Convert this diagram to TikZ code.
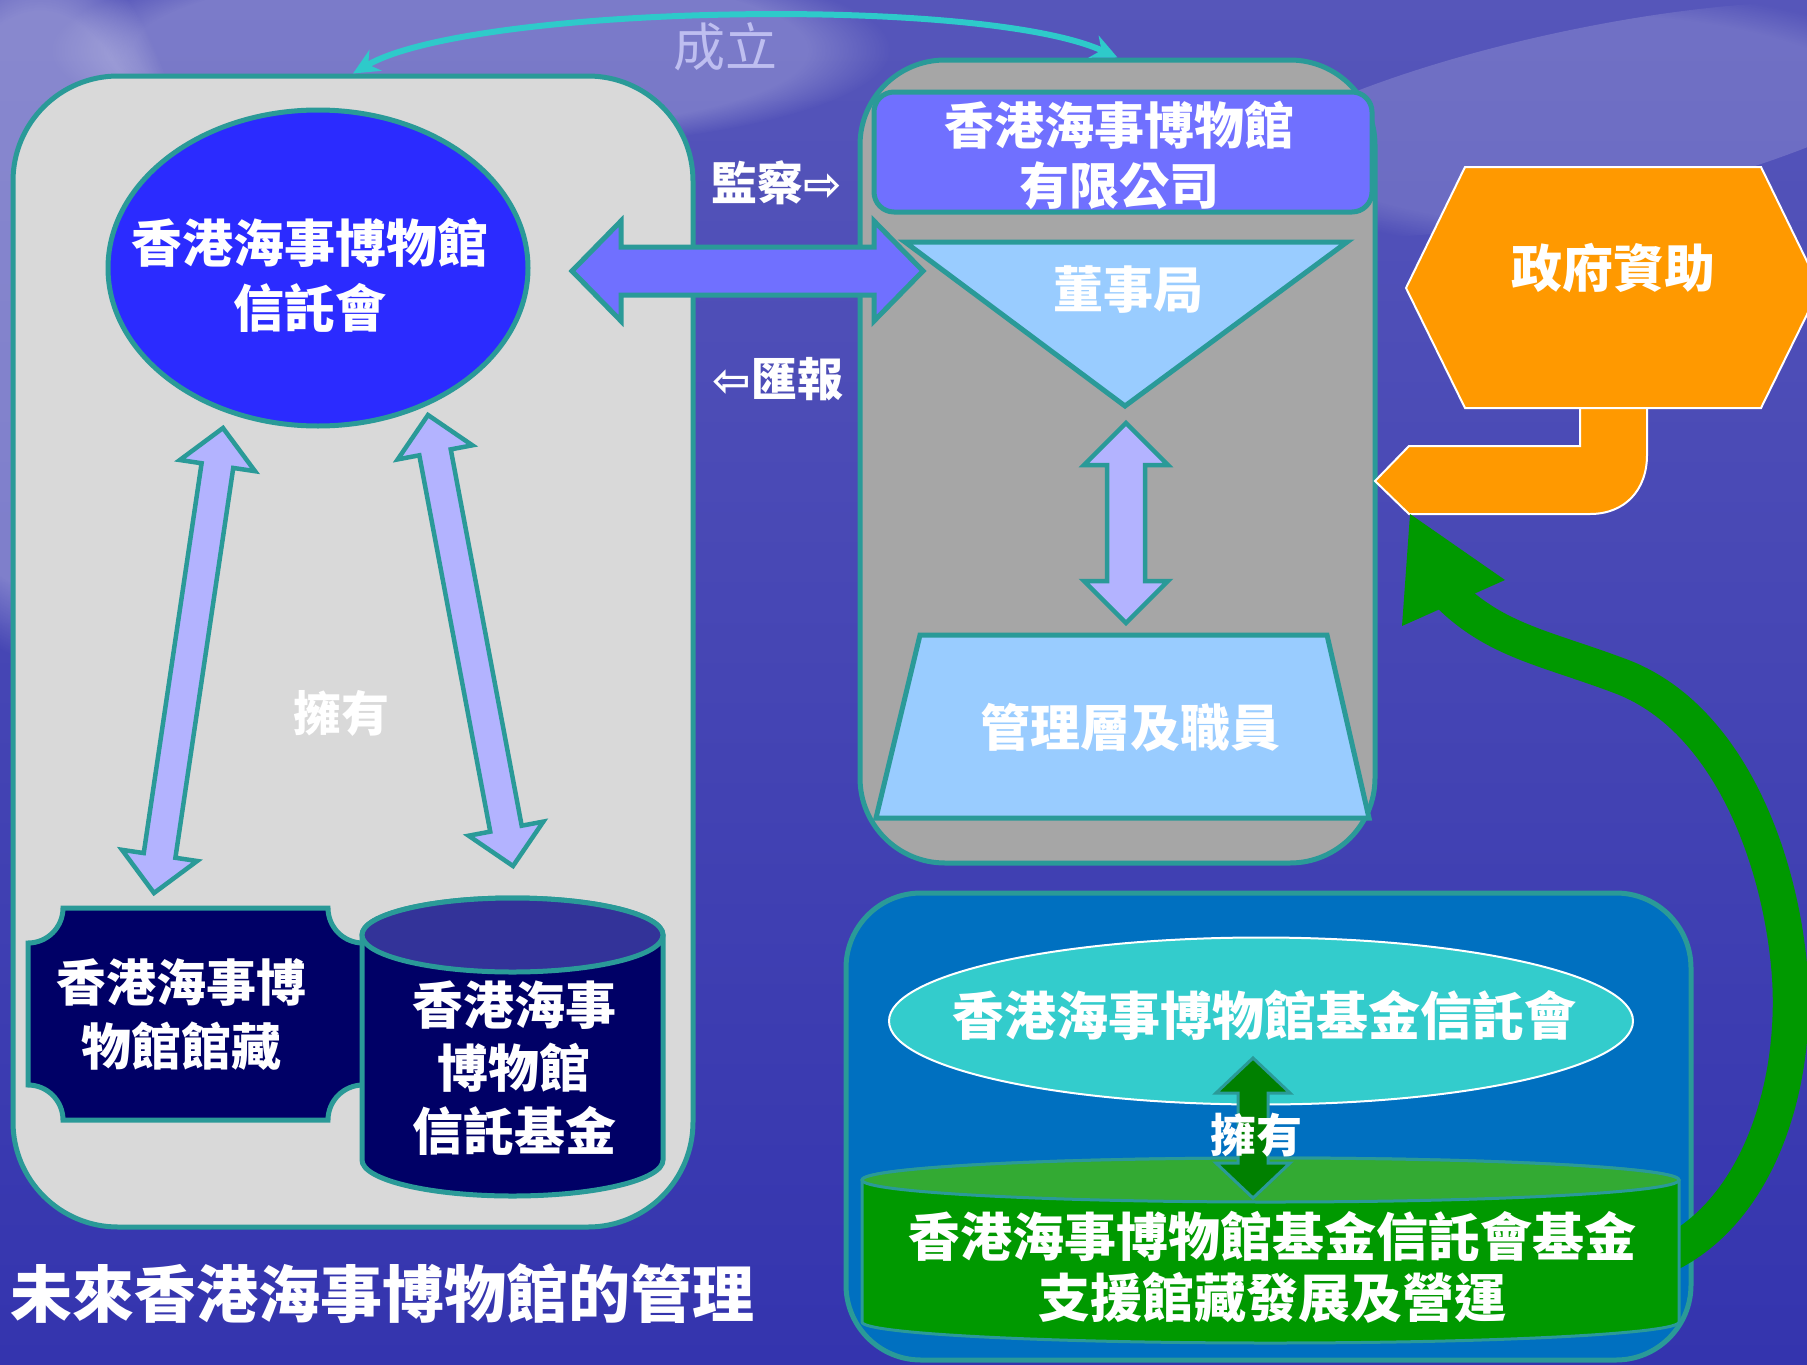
\documentclass[tikz,border=0pt]{standalone}
\usepackage{fontspec}
\setmainfont{Noto Sans CJK TC}
\newfontfamily\arrowfont{DejaVu Sans}
\usetikzlibrary{shapes.geometric, arrows.meta, calc, positioning, fadings}

\definecolor{edgeteal}{HTML}{2A9A98}
\definecolor{panelgray}{HTML}{D9D9D9}
\definecolor{companygray}{HTML}{A6A6A6}
\definecolor{trustblue}{HTML}{2B2BFF}
\definecolor{boldviolet}{HTML}{7070FF}
\definecolor{paleviolet}{HTML}{B3B3FF}
\definecolor{paleblue}{HTML}{99CCFF}
\definecolor{grantorange}{HTML}{FF9900}
\definecolor{navy}{HTML}{000066}
\definecolor{navytop}{HTML}{333399}
\definecolor{fundblue}{HTML}{0070C0}
\definecolor{fundcyan}{HTML}{33CCCC}
\definecolor{fundgreen}{HTML}{009900}
\definecolor{fundtop}{HTML}{33AA33}
\definecolor{darkgreen}{HTML}{008000}
\definecolor{foundcyan}{HTML}{2ECACA}
\definecolor{foundlav}{HTML}{BEBEF0}
\definecolor{skytop}{HTML}{5656BA}
\definecolor{skymid}{HTML}{3E3EB4}
\definecolor{skybottom}{HTML}{3434AE}

\newcommand{\cjksize}[2]{\fontsize{#1}{#2}\selectfont}

% block arrow with two heads: style, tip, tip, shaft half, head half, head length
\newcommand{\blockarrow}[6]{%
  \coordinate (bahead1) at ($(#2)!#6!(#3)$);
  \coordinate (bahead2) at ($(#3)!#6!(#2)$);
  \filldraw[#1] (#2) -- ($(bahead1)!#5!90:(#3)$) -- ($(bahead1)!#4!90:(#3)$)
    -- ($(bahead2)!#4!-90:(#2)$) -- ($(bahead2)!#5!-90:(#2)$) -- (#3)
    -- ($(bahead2)!#5!90:(#2)$) -- ($(bahead2)!#4!90:(#2)$)
    -- ($(bahead1)!#4!-90:(#3)$) -- ($(bahead1)!#5!-90:(#3)$) -- cycle;}

\tikzset{
  panel/.style={draw=edgeteal, line width=5pt},
  lbl/.style={text=white, align=center, inner sep=0pt, font=\bfseries\cjksize{50}{62}},
  pale arrow/.style={draw=edgeteal, line width=4.5pt, fill=paleviolet, line join=miter},
  cloud/.style={fill=white, path fading=circle with fuzzy edge 20 percent},
}

\begin{document}
\begin{tikzpicture}[x=1pt, y=-1pt]
\useasboundingbox (0,0) rectangle (1807,1365);
\clip (0,0) rectangle (1807,1365);

% sky
\shade[top color=skytop, middle color=skymid, bottom color=skybottom] (0,0) rectangle (1807,1365);
\fill[cloud, fill opacity=0.3] (40,300) ellipse[x radius=160pt, y radius=360pt];
\fill[cloud, fill opacity=0.22] (470,50) ellipse[x radius=420pt, y radius=100pt];
\fill[cloud, fill opacity=0.16, rotate around={12:(1580,120)}] (1580,120) ellipse[x radius=380pt, y radius=90pt];

% panels
\node[panel, fill=panelgray, rounded corners=105pt, minimum width=680pt, minimum height=1151pt] (trustbox) at (353,651.5) {};
\node[panel, fill=companygray, rounded corners=85pt, minimum width=515pt, minimum height=803pt] (companybox) at (1117.5,461.5) {};
\node[panel, fill=fundblue, rounded corners=75pt, minimum width=845pt, minimum height=467pt] (fundbox) at (1268.5,1126.5) {};

% founding
\draw[foundcyan, line width=6pt, {Stealth[length=26pt, width=24pt]}-{Stealth[length=26pt, width=24pt]}]
  (trustbox.north) .. controls (470,5) and (980,-5) .. (companybox.north);
\node[text=foundlav, font=\cjksize{52}{60}] (founded) at (725,47) {成立};

% left side
\node[ellipse, panel, fill=trustblue, minimum width=420pt, minimum height=316pt] (trust) at (318,268) {};
\filldraw[panel, fill=navy] (63,908) -- (328,908) .. controls (328,927.3) and (343.7,943) .. (363,943)
  -- (363,1085) .. controls (343.7,1085) and (328,1100.7) .. (328,1120)
  -- (63,1120) .. controls (63,1100.7) and (47.3,1085) .. (28,1085)
  -- (28,943) .. controls (47.3,943) and (63,927.3) .. (63,908) -- cycle;
\filldraw[panel, fill=navy] (362,935) -- (362,1160) arc[start angle=180, end angle=360, x radius=150.5pt, y radius=36pt]
  -- (663,935) arc[start angle=0, end angle=180, x radius=150.5pt, y radius=37pt] -- cycle;
\filldraw[panel, fill=navytop] (512.5,935) ellipse[x radius=150.5pt, y radius=37pt];

\coordinate (ownL1) at (223,428);
\coordinate (ownL2) at (154,893);
\coordinate (ownR1) at (428,415);
\coordinate (ownR2) at (513,866);
\blockarrow{pale arrow}{ownL1}{ownL2}{16pt}{38pt}{38pt}
\blockarrow{pale arrow}{ownR1}{ownR2}{16pt}{38pt}{38pt}

% company side
\node[panel, fill=boldviolet, rounded corners=20pt, minimum width=498pt, minimum height=120pt] (company) at (1123,152) {};
\filldraw[panel, fill=paleblue] (905,242) -- (1347,242) -- (1125,406) -- cycle;
\filldraw[panel, fill=paleblue] (920,635) -- (1327,635) -- (1369,818) -- (876,818) -- cycle;
\coordinate (boardtip) at (1126,423);
\coordinate (stafftip) at (1126,623);
\blockarrow{pale arrow}{boardtip}{stafftip}{19pt}{42pt}{42pt}

% supervise / report
\coordinate (superL) at (572,271);
\coordinate (superR) at (923,271);
\blockarrow{pale arrow, fill=boldviolet, line width=5pt}{superL}{superR}{24pt}{50pt}{49pt}

% government grant
\filldraw[draw=white, line width=2pt, fill=grantorange] (1580,400) -- (1647,400) -- (1647,455)
  .. controls (1647,490) and (1625,514) .. (1590,514) -- (1409,514) -- (1375,481) -- (1409,446) -- (1580,446) -- cycle;
\filldraw[draw=white, line width=2pt, fill=grantorange] (1406,288) -- (1465,167) -- (1761,167) -- (1820,288) -- (1761,408) -- (1465,408) -- cycle;

% fund side
\node[ellipse, draw=white, line width=2pt, fill=fundcyan, minimum width=744pt, minimum height=167pt] (fundtrust) at (1261,1021) {};
\coordinate (fundtail) at (1660,1258);
\coordinate (grantneck) at (1440,585);
\draw[fundgreen, line width=36pt] (fundtail) .. controls (1760,1215) and (1800,1080) .. (1789,965)
  .. controls (1778,850) and (1725,715) .. (1620,676) .. controls (1540,646) and (1490,640) .. (grantneck);
\fill[fundgreen] (1410,514) -- (1505,580) -- (1402,626) -- cycle;
\filldraw[draw=edgeteal, line width=3pt, fill=fundgreen] (862,1180) -- (862,1322) arc[start angle=180, end angle=360, x radius=408.5pt, y radius=21pt]
  -- (1679,1180) arc[start angle=0, end angle=180, x radius=408.5pt, y radius=22pt] -- cycle;
\filldraw[draw=edgeteal, line width=3pt, fill=fundtop] (1270.5,1180) ellipse[x radius=408.5pt, y radius=22pt];
\coordinate (fundtrusttip) at (1253,1058);
\coordinate (fundtip) at (1253,1198);
\blockarrow{pale arrow, fill=darkgreen, line width=3pt}{fundtrusttip}{fundtip}{15pt}{37pt}{35pt}

% texts
\node[lbl, font=\bfseries\cjksize{51}{65}] (trusttext) at (310,275) {香港海事博物館\\信託會};
\node[lbl, font=\bfseries\cjksize{46}{50}] (supervise) at (777,183) {監察{\arrowfont ⇨}};
\node[lbl, font=\bfseries\cjksize{46}{50}] (report) at (778,379) {{\arrowfont ⇦}匯報};
\node[lbl, font=\bfseries\cjksize{50}{60}] (companytext) at (1119,155) {香港海事博物館\\有限公司};
\node[lbl] (boardtext) at (1128,290) {董事局};
\node[lbl] (stafftext) at (1130,728) {管理層及職員};
\node[lbl, font=\bfseries\cjksize{51}{60}] (granttext) at (1613,268) {政府資助};
\node[lbl, font=\bfseries\cjksize{48}{60}] (ownsleft) at (341,713) {擁有};
\node[lbl, font=\bfseries\cjksize{50}{64}] (collectiontext) at (181,1015) {香港海事博\\物館館藏};
\node[lbl, font=\bfseries\cjksize{51}{63}] (trustfundtext) at (514,1068) {香港海事\\博物館\\信託基金};
\node[lbl, font=\bfseries\cjksize{52}{60}] (fundtrusttext) at (1264,1015) {香港海事博物館基金信託會};
\node[lbl, font=\bfseries\cjksize{46}{60}] (ownsright) at (1256,1135) {擁有};
\node[lbl, font=\bfseries\cjksize{52}{61}] (fundtext) at (1272,1267) {香港海事博物館基金信託會基金\\支援館藏發展及營運};
\node[lbl, font=\bfseries\cjksize{62}{70}] (caption) at (382,1293) {未來香港海事博物館的管理};
\end{tikzpicture}
\end{document}
